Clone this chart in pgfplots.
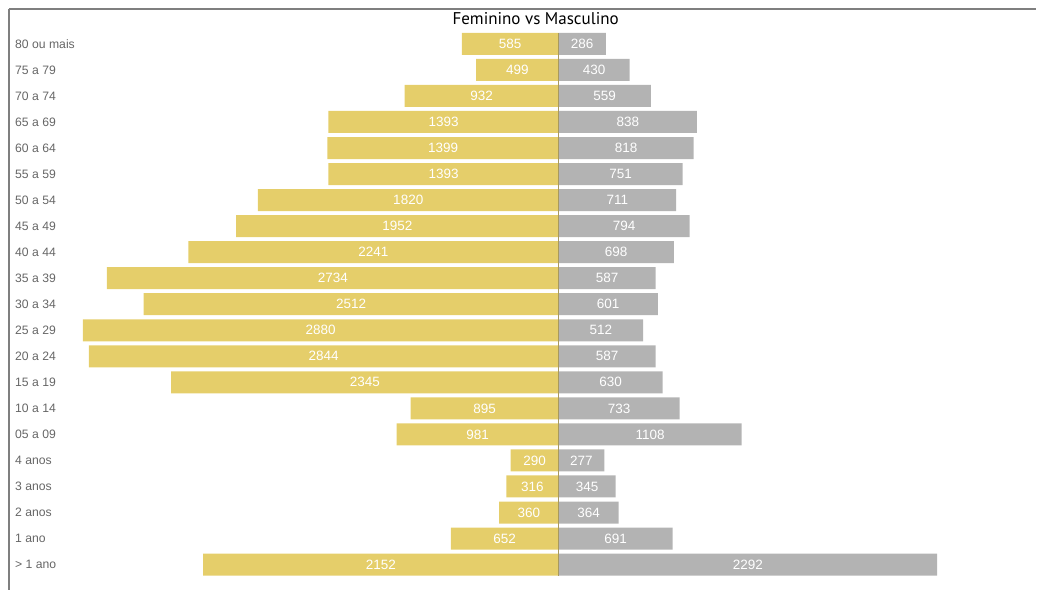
\documentclass[border=0pt]{standalone}
\usepackage{pgfplots}
\pgfplotsset{compat=1.18}
\usepackage{pgfplotstable}
\usepackage{fontspec}
\setmainfont{Liberation Sans}
\newfontfamily\titlefont{PT Sans}

\definecolor{fem}{HTML}{E5CE6A}
\definecolor{masc}{HTML}{B3B3B3}
\definecolor{lbl}{HTML}{666666}
\definecolor{frame}{HTML}{7F7F7F}
\definecolor{mid}{HTML}{A8995E}

% idx: row from the bottom; f: feminino; m: masculino
\pgfplotstableread{
idx f m
0 2152 2292
1 652 691
2 360 364
3 316 345
4 290 277
5 981 1108
6 895 733
7 2345 630
8 2844 587
9 2880 512
10 2512 601
11 2734 587
12 2241 698
13 1952 794
14 1820 711
15 1393 751
16 1399 818
17 1393 838
18 932 559
19 499 430
20 585 286
}\faixas

\begin{document}
\begin{tikzpicture}
\path (0pt,0pt) rectangle (1037pt,590pt);
\begin{axis}[
  at={(9pt,0pt)}, anchor=south west,
  scale only axis,
  width=1028pt, height=581pt,
  xmin=-3327, xmax=2892,
  ymin=-0.96, ymax=21.34,
  axis x line*=top, axis y line*=left,
  axis line style={-, draw=frame, line width=1.5pt},
  xtick=\empty,
  ytick={0,...,20},
  yticklabels={> 1 ano,1 ano,2 anos,3 anos,4 anos,05 a 09,10 a 14,15 a 19,20 a 24,25 a 29,30 a 34,35 a 39,40 a 44,45 a 49,50 a 54,55 a 59,60 a 64,65 a 69,70 a 74,75 a 79,80 ou mais},
  yticklabel style={anchor=west, xshift=6pt, inner sep=0pt, text=lbl, font=\fontsize{12.2}{12}\selectfont},
  major tick length=0pt,
  clip=false,
  xbar, bar width=22pt, bar shift=0pt,
  /pgf/number format/assume math mode=true,
  /pgf/number format/1000 sep={},
  nodes near coords,
  every node near coord/.append style={text=white, anchor=center, font=\fontsize{13.5}{13.5}\selectfont},
]
\addplot[draw=none, fill=fem,
  point meta=explicit,
  visualization depends on={\thisrow{f} \as \val},
  every node near coord/.append style={xshift={\val*0.08265pt}}]
  table[x expr=-\thisrow{f}, y=idx, meta=f] {\faixas};
\addplot[draw=none, fill=masc,
  point meta=explicit,
  visualization depends on={\thisrow{m} \as \val},
  every node near coord/.append style={xshift={-\val*0.08265pt}}]
  table[x=m, y=idx, meta=m] {\faixas};
\draw[mid, line width=0.7pt] (axis cs:0,-0.42) -- (axis cs:0,20.42);
\end{axis}
\node[font=\titlefont\fontsize{17}{17}\selectfont, text=black] at (536pt,571pt) {Feminino vs Masculino};
\end{tikzpicture}
\end{document}
